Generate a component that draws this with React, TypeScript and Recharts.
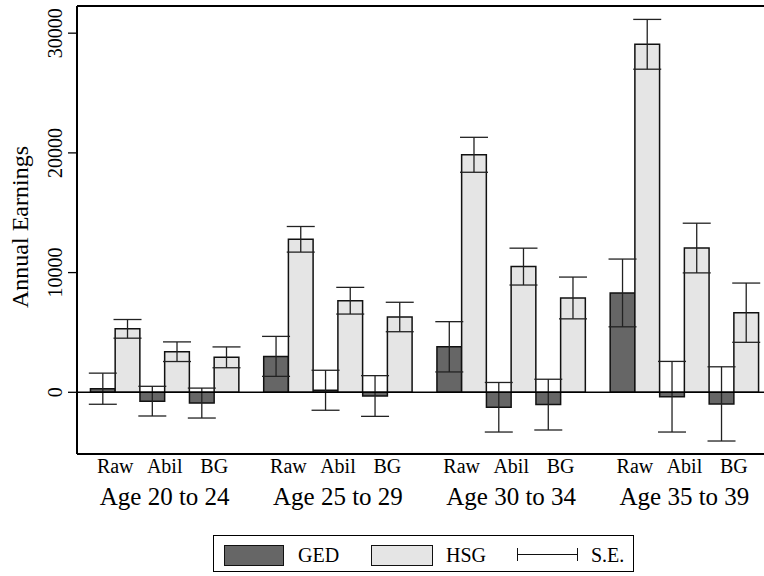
import { BarChart, Bar, XAxis, YAxis, ErrorBar, ReferenceLine, Legend } from 'recharts';

const ageGroups = ['Age 20 to 24', 'Age 25 to 29', 'Age 30 to 34', 'Age 35 to 39'];
const measures = ['Raw', 'Abil', 'BG'];

// GED and HSG earnings, in the order Raw/Abil/BG for each age group
const gedMean = [300, -740, -900, 3000, 170, -310, 3800, -1250, -1030, 8300, -370, -970];
const gedSE = [1300, 1240, 1250, 1670, 1670, 1700, 2100, 2070, 2120, 2830, 2950, 3100];
const hsgMean = [5300, 3390, 2920, 12780, 7650, 6290, 19840, 10500, 7880, 29070, 12050, 6650];
const hsgSE = [780, 820, 870, 1070, 1115, 1230, 1460, 1540, 1745, 2080, 2075, 2475];

const yTicks = [0, 10000, 20000, 30000];

const SERIF = '"Liberation Serif", "Times New Roman", serif';
const GROUP_STEP = 3.5;

const data = ageGroups.flatMap((age, g) =>
  measures.map((m, i) => {
    const k = g * 3 + i;
    return {
      pos: g * GROUP_STEP + i,
      label: m,
      age,
      ged: gedMean[k],
      gedSE: gedSE[k],
      hsg: hsgMean[k],
      hsgSE: hsgSE[k],
    };
  })
);

const catTicks = data.map((d) => d.pos);
const groupTicks = ageGroups.map((_, g) => g * GROUP_STEP + 1);
const labelAt = (v: number) => data.find((d) => Math.abs(d.pos - v) < 1e-6)?.label ?? '';
const ageAt = (v: number) => ageGroups[Math.round((v - 1) / GROUP_STEP)] ?? '';

const CatTick = ({ x, y, payload }: any) => (
  <text x={x} y={y + 19} textAnchor="middle" fontSize={20} fill="#000" fontFamily={SERIF}>
    {labelAt(payload.value)}
  </text>
);

const AgeTick = ({ x, y, payload }: any) => (
  <text x={x} y={y + 23} textAnchor="middle" fontSize={25} fill="#000" fontFamily={SERIF}>
    {ageAt(payload.value)}
  </text>
);

const YTick = ({ x, y, payload }: any) => {
  const bx = x - 6;
  return (
    <text
      x={bx}
      y={y}
      transform={`rotate(-90, ${bx}, ${y})`}
      textAnchor="middle"
      fontSize={20}
      fill="#000"
      fontFamily={SERIF}
    >
      {payload.value}
    </text>
  );
};

const YTitle = () => (
  <text
    x={28}
    y={227}
    transform="rotate(-90, 28, 227)"
    textAnchor="middle"
    fontSize={24}
    fill="#000"
    fontFamily={SERIF}
  >
    Annual Earnings
  </text>
);

const swatch = (left: number, width: number, bg: string) => (
  <div
    style={{
      position: 'absolute',
      left,
      top: 9,
      width,
      height: 21,
      background: bg,
      border: '1.5px solid #111',
      boxSizing: 'border-box',
    }}
  />
);

const legendText = (left: number, text: string) => (
  <div style={{ position: 'absolute', left, top: 7, fontSize: 20, fontFamily: SERIF, color: '#000', lineHeight: '24px' }}>
    {text}
  </div>
);

const ChartLegend = () => (
  <div
    style={{
      position: 'relative',
      width: 421,
      height: 37,
      border: '1px solid #000',
      boxSizing: 'border-box',
      background: '#fff',
    }}
  >
    {swatch(10, 60, '#666666')}
    {legendText(84, 'GED')}
    {swatch(157, 62, '#e5e5e5')}
    {legendText(232, 'HSG')}
    <div style={{ position: 'absolute', left: 303, top: 18, width: 61, height: 1, background: '#111' }} />
    <div style={{ position: 'absolute', left: 303, top: 12, width: 1, height: 13, background: '#111' }} />
    <div style={{ position: 'absolute', left: 363, top: 12, width: 1, height: 13, background: '#111' }} />
    {legendText(377, 'S.E.')}
  </div>
);

export default function App() {
  return (
    <div
      style={{
        position: 'fixed',
        left: 0,
        top: 0,
        width: 764,
        height: 576,
        overflow: 'hidden',
        background: '#fff',
      }}
    >
      <BarChart
        width={775}
        height={576}
        data={data}
        margin={{ top: 6, right: 0, bottom: 44, left: 0 }}
        barGap={0}
      >
        <XAxis
          dataKey="pos"
          type="number"
          domain={[-0.772, 13.33]}
          allowDataOverflow
          ticks={catTicks}
          interval={0}
          tickLine={false}
          tickSize={0}
          tickMargin={0}
          height={28}
          axisLine={{ stroke: '#000', strokeWidth: 2 }}
          tick={<CatTick />}
        />
        <XAxis
          xAxisId="grp"
          dataKey="pos"
          type="number"
          domain={[-0.772, 13.33]}
          allowDataOverflow
          ticks={groupTicks}
          interval={0}
          tickLine={false}
          tickSize={0}
          tickMargin={0}
          height={50}
          axisLine={false}
          tick={<AgeTick />}
        />
        <YAxis
          type="number"
          domain={[-5155, 32270]}
          allowDataOverflow
          ticks={yTicks}
          width={77}
          tickSize={9}
          tickMargin={0}
          tickLine={{ stroke: '#000', strokeWidth: 1.3 }}
          axisLine={{ stroke: '#000', strokeWidth: 2 }}
          tick={<YTick />}
          label={<YTitle />}
        />
        <ReferenceLine y={32270} stroke="#000" strokeWidth={2} />
        <Bar dataKey="ged" name="GED" fill="#666666" stroke="#111" strokeWidth={1.5} barSize={24.7} isAnimationActive={false}>
          <ErrorBar dataKey="gedSE" direction="y" width={14} stroke="#222" strokeWidth={1.3} />
        </Bar>
        <Bar dataKey="hsg" name="HSG" fill="#e5e5e5" stroke="#111" strokeWidth={1.5} barSize={24.7} isAnimationActive={false}>
          <ErrorBar dataKey="hsgSE" direction="y" width={14} stroke="#222" strokeWidth={1.3} />
        </Bar>
        <ReferenceLine y={0} stroke="#000" strokeWidth={1.5} />
        <Legend
          verticalAlign="middle"
          align="center"
          layout="horizontal"
          content={<ChartLegend />}
          wrapperStyle={{ left: 213, top: 535, width: 421, height: 37 }}
        />
      </BarChart>
    </div>
  );
}
